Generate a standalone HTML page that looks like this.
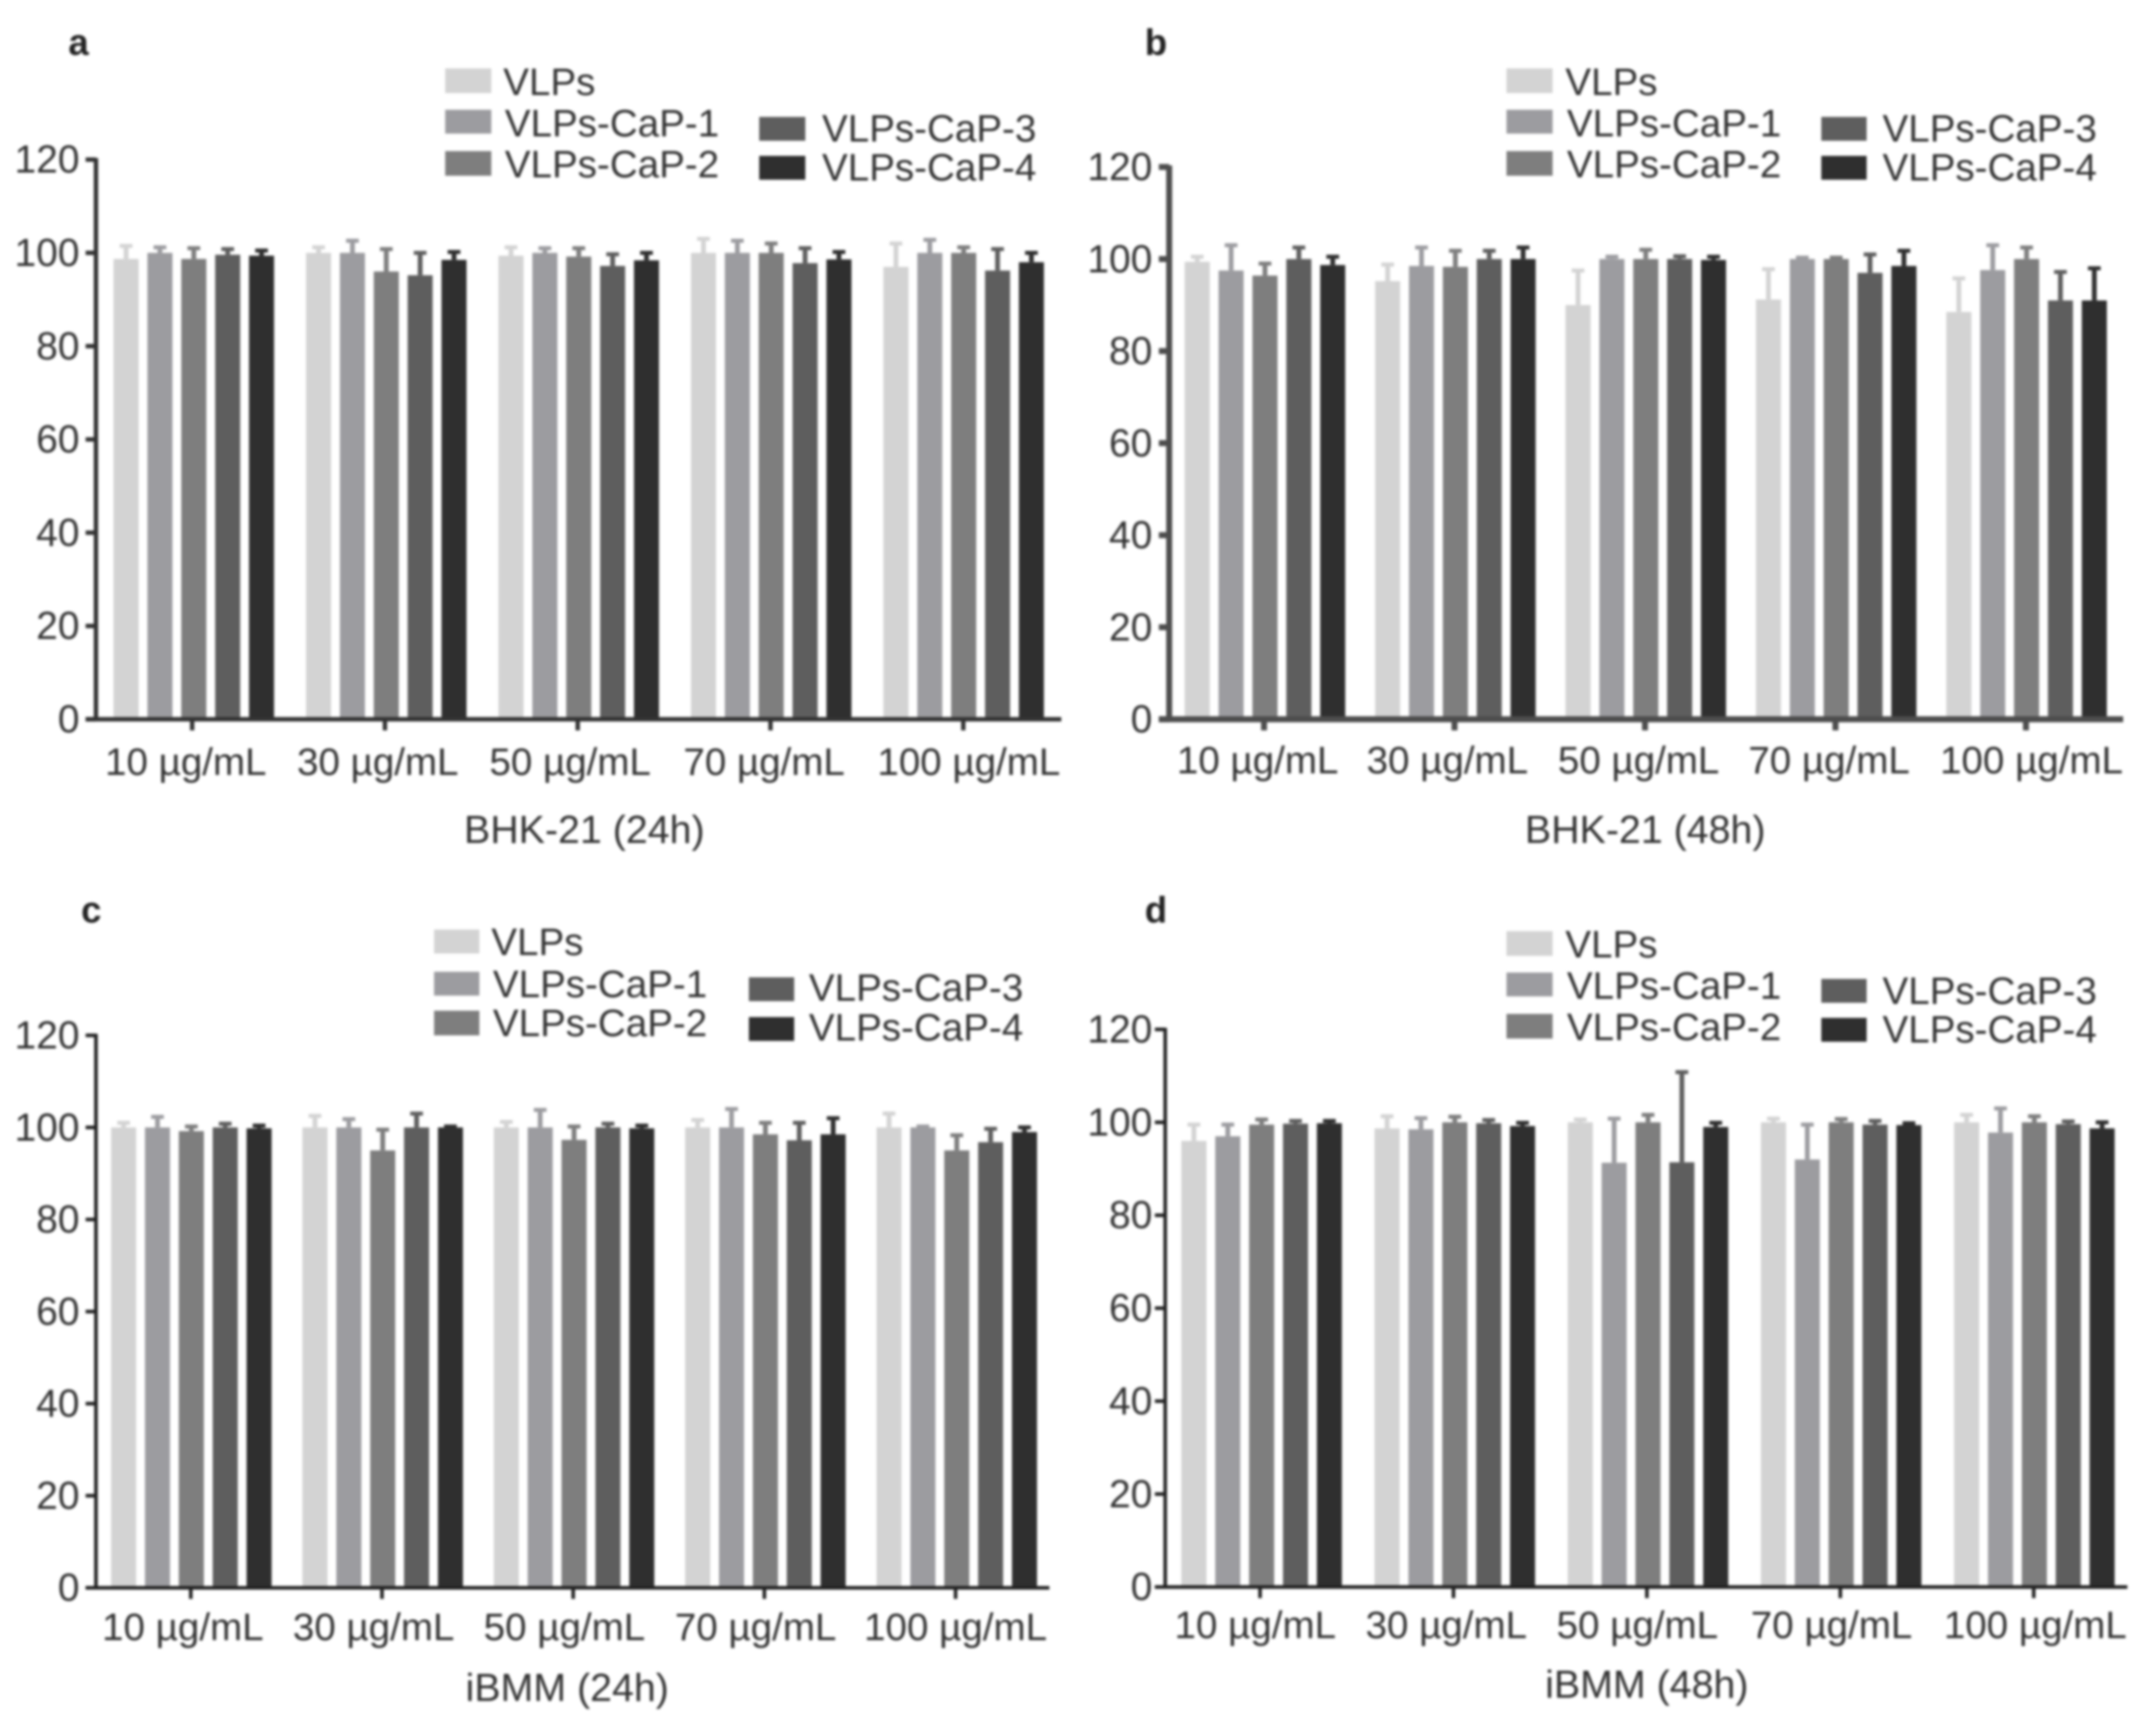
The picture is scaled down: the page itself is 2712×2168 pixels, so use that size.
<!DOCTYPE html>
<html lang="en">
<head>
<meta charset="utf-8">
<title>Cell viability of VLPs and VLPs-CaP</title>
<style>
html,body{margin:0;padding:0;background:#fff;width:2712px;height:2168px;overflow:hidden}
svg{display:block;filter:blur(1.5px)}
text{font-family:"Liberation Sans",sans-serif;fill:#333}
.leg{font-size:48.5px}
.tick{font-size:49px}
.cat{font-size:48.5px}
.ttl{font-size:49.5px;text-anchor:middle}
.let{font-size:46px;font-weight:bold;fill:#222}
</style>
</head>
<body>
<svg id="chart" xmlns="http://www.w3.org/2000/svg" width="2712" height="2168" viewBox="0 0 2712 2168">
<rect width="2712" height="2168" fill="#fff"/>

<g>
<text class="let" x="86" y="69">a</text>
<text class="ttl" x="735" y="1060">BHK-21 (24h)</text>
<g>
<rect x="560" y="86" width="58" height="31" fill="#d3d3d3"/>
<text class="leg" x="633" y="119.5">VLPs</text>
<rect x="560" y="138" width="58" height="30" fill="#9c9ca0"/>
<text class="leg" x="635" y="171.5">VLPs-CaP-1</text>
<rect x="560" y="190" width="58" height="31" fill="#7e7e7e"/>
<text class="leg" x="635" y="223">VLPs-CaP-2</text>
<rect x="955" y="147" width="58" height="30" fill="#5e5e5e"/>
<text class="leg" x="1034" y="178">VLPs-CaP-3</text>
<rect x="955" y="196" width="58" height="30" fill="#2f2f2f"/>
<text class="leg" x="1034" y="227">VLPs-CaP-4</text>
</g>
</g>

<g>
<text class="let" x="1440" y="69">b</text>
<text class="ttl" x="2069.5" y="1060">BHK-21 (48h)</text>
<g>
<rect x="1895" y="86" width="58" height="31" fill="#d3d3d3"/>
<text class="leg" x="1969" y="119.5">VLPs</text>
<rect x="1895" y="138" width="58" height="30" fill="#9c9ca0"/>
<text class="leg" x="1971" y="171.5">VLPs-CaP-1</text>
<rect x="1895" y="190" width="58" height="31" fill="#7e7e7e"/>
<text class="leg" x="1971" y="223">VLPs-CaP-2</text>
<rect x="2291" y="147" width="57" height="30" fill="#5e5e5e"/>
<text class="leg" x="2368" y="178">VLPs-CaP-3</text>
<rect x="2291" y="196" width="57" height="30" fill="#2f2f2f"/>
<text class="leg" x="2368" y="227">VLPs-CaP-4</text>
</g>
</g>

<g>
<text class="let" x="102" y="1160">c</text>
<text class="ttl" x="713.5" y="2139">iBMM (24h)</text>
<g>
<rect x="546" y="1169" width="57" height="30" fill="#d3d3d3"/>
<text class="leg" x="618" y="1201">VLPs</text>
<rect x="546" y="1222" width="57" height="30" fill="#9c9ca0"/>
<text class="leg" x="620" y="1254">VLPs-CaP-1</text>
<rect x="546" y="1271" width="57" height="31" fill="#7e7e7e"/>
<text class="leg" x="620" y="1303">VLPs-CaP-2</text>
<rect x="942" y="1229" width="57" height="30" fill="#5e5e5e"/>
<text class="leg" x="1017.5" y="1258.5">VLPs-CaP-3</text>
<rect x="942" y="1279" width="57" height="30" fill="#2f2f2f"/>
<text class="leg" x="1017.5" y="1308.5">VLPs-CaP-4</text>
</g>
</g>

<g>
<text class="let" x="1440" y="1160">d</text>
<text class="ttl" x="2071.5" y="2135">iBMM (48h)</text>
<g>
<rect x="1895" y="1171" width="58" height="31" fill="#d3d3d3"/>
<text class="leg" x="1969" y="1204">VLPs</text>
<rect x="1895" y="1223" width="58" height="30" fill="#9c9ca0"/>
<text class="leg" x="1971" y="1256">VLPs-CaP-1</text>
<rect x="1895" y="1275" width="58" height="31" fill="#7e7e7e"/>
<text class="leg" x="1971" y="1308">VLPs-CaP-2</text>
<rect x="2291" y="1231" width="57" height="30" fill="#5e5e5e"/>
<text class="leg" x="2368" y="1262.5">VLPs-CaP-3</text>
<rect x="2291" y="1280" width="57" height="30" fill="#2f2f2f"/>
<text class="leg" x="2368" y="1311">VLPs-CaP-4</text>
</g>
</g>
</svg>

<script>
// ---------- chart data ----------
const categories = ["10 µg/mL", "30 µg/mL", "50 µg/mL", "70 µg/mL", "100 µg/mL"];
const seriesNames = ["VLPs", "VLPs-CaP-1", "VLPs-CaP-2", "VLPs-CaP-3", "VLPs-CaP-4"];
const yTickValues = [0, 20, 40, 60, 80, 100, 120];

// One inner array per concentration, one value per series
const panelAValues = [
  [98.7, 100, 98.7, 99.6, 99.4],
  [100, 100, 96, 95.2, 98.5],
  [99.4, 100, 99.2, 97.2, 98.4],
  [100, 100, 100, 97.8, 98.6],
  [97, 100, 100, 96.2, 98]
];
const panelAErrorTops = [
  [101.5, 101.2, 101, 100.8, 100.5],
  [101.2, 102.6, 100.8, 100, 100.2],
  [101.2, 101, 101, 99.7, 100],
  [103, 102.6, 102, 101, 100.2],
  [102, 102.8, 101.2, 100.8, 100]
];
const panelBValues = [
  [99.4, 97.5, 96.4, 100, 98.7],
  [95.2, 98.5, 98.3, 100, 100],
  [90, 100, 100, 100, 99.8],
  [91.2, 100, 100, 97, 98.5],
  [88.5, 97.6, 100, 91, 91]
];
const panelBErrorTops = [
  [100.5, 103, 99, 102.5, 100.5],
  [98.8, 102.5, 101.8, 101.8, 102.5],
  [97.5, 100.5, 102, 100.6, 100.5],
  [97.8, 100.3, 100.3, 101, 101.8],
  [95.8, 103, 102.5, 97.2, 98]
];
const panelCValues = [
  [100, 100, 99.2, 100, 99.8],
  [100, 100, 95, 100, 100],
  [100, 100, 97.3, 100, 99.8],
  [100, 100, 98.5, 97.2, 98.5],
  [100, 100, 95, 96.8, 99]
];
const panelCErrorTops = [
  [101, 102.3, 100.2, 100.8, 100.4],
  [102.5, 101.8, 99.5, 103, 100.2],
  [101.2, 103.8, 100.2, 100.8, 100.4],
  [101.6, 104, 101, 101, 102],
  [103, 100.2, 98.3, 99.7, 100]
];
const panelDValues = [
  [96, 97, 99.5, 99.7, 99.8],
  [98.7, 98.5, 100, 99.8, 99.2],
  [100, 91.3, 100, 91.4, 99],
  [100, 92, 100, 99.5, 99.4],
  [100, 97.8, 100, 99.6, 98.7]
];
const panelDErrorTops = [
  [99.5, 99.5, 100.6, 100.3, 100.3],
  [101.3, 100.9, 101.2, 100.5, 99.9],
  [100.6, 100.8, 101.6, 110.8, 99.9],
  [100.8, 99.5, 100.7, 100.3, 99.8],
  [101.6, 103, 101.3, 100.2, 100]
];

// ---------- layout and drawing ----------
const seriesColors = ["#d3d3d3", "#9c9ca0", "#7e7e7e", "#5e5e5e", "#2f2f2f"];
const yMax = 120;
const barWidth = 31.5;
const barPitch = 42.6;

const panels = [
  {id: "a", values: panelAValues, errs: panelAErrorTops, axisX: 120.7, axisEnd: 1335, y0: 904.5, yTop: 200.7, firstTick: 241.7, tickStep: 242.5, firstBar: 243.8, barStep: 242.1, labelRight: 100, catBaseline: 974.5, axisColor: "#333", axisWidth: 5.5, labelShift: [-8, -9, -9.5, -8, 7]},
  {id: "b", values: panelBValues, errs: panelBErrorTops, axisX: 1470.7, axisEnd: 2670.7, y0: 904.5, yTop: 210, firstTick: 1590, tickStep: 239.6, firstBar: 1591.2, barStep: 239.5, labelRight: 1449.5, catBaseline: 972.5, axisColor: "#4d4d4d", axisWidth: 7.5, labelShift: [-8, -9, -8, -8, 7]},
  {id: "c", values: panelCValues, errs: panelCErrorTops, axisX: 120.7, axisEnd: 1320, y0: 1996.7, yTop: 1302, firstTick: 240, tickStep: 240.5, firstBar: 240.7, barStep: 240.7, labelRight: 100, catBaseline: 2062.5, axisColor: "#222", axisWidth: 4.5, labelShift: [-10, -10.5, -11, -11, 0]},
  {id: "d", values: panelDValues, errs: panelDErrorTops, axisX: 1465.7, axisEnd: 2676, y0: 1995.7, yTop: 1294.5, firstTick: 1585, tickStep: 243.3, firstBar: 1587, barStep: 243, labelRight: 1449.5, catBaseline: 2060, axisColor: "#222", axisWidth: 4.5, labelShift: [-6, -9, -12, -11, 2]}
];

const svg = document.getElementById("chart");
const NS = "http://www.w3.org/2000/svg";

function make(tag, parent, props) {
  const el = document.createElementNS(NS, tag);
  for (const k in props) el.setAttribute(k, props[k]);
  parent.appendChild(el);
  return el;
}

function yScale(p, v) {
  return p.y0 - (v / yMax) * (p.y0 - p.yTop);
}

function tickX(p, c) {
  return p.firstTick + c * p.tickStep;
}

function barX(p, c, s) {
  return p.firstBar + c * p.barStep + (s - 2) * barPitch;
}

panels.forEach(function (p) {
  const g = make("g", svg, {});
  
  

  // error bars and bars
  p.values.forEach(function (row, c) {
    row.forEach(function (v, s) {
      const cx = barX(p, c, s);
      const top = yScale(p, v);
      const errTop = yScale(p, p.errs[c][s]);

      const stem = make("line", g, {x1: cx, x2: cx, y1: top, y2: errTop, stroke: seriesColors[s], "stroke-width": 6});
      
      

      const cap = make("line", g, {x1: cx - 8, x2: cx + 8, y1: errTop, y2: errTop, stroke: seriesColors[s], "stroke-width": 5});
      
      

      const bar = make("rect", g, {x: cx - barWidth / 2, y: top, width: barWidth, height: p.y0 - top, fill: seriesColors[s]});
      
      
    });
  });

  // y axis
  const yLine = make("line", g, {x1: p.axisX, x2: p.axisX, y1: p.yTop - 2, y2: p.y0 + 2, stroke: p.axisColor, "stroke-width": p.axisWidth});
  
  

  yTickValues.forEach(function (t) {
    const y = yScale(p, t);
    const tick = make("line", g, {x1: p.axisX - 13, x2: p.axisX, y1: y, y2: y, stroke: p.axisColor, "stroke-width": p.axisWidth});
    
    

    const lab = make("text", g, {x: p.labelRight, y: y + 16.5, "text-anchor": "end", class: "tick"});
    
    
    lab.textContent = t;
  });

  // x axis
  const xLine = make("line", g, {x1: p.axisX - 13, x2: p.axisEnd, y1: p.y0, y2: p.y0, stroke: p.axisColor, "stroke-width": p.axisWidth});
  
  

  categories.forEach(function (name, c) {
    const x = tickX(p, c);
    const tick = make("line", g, {x1: x, x2: x, y1: p.y0, y2: p.y0 + 14, stroke: p.axisColor, "stroke-width": p.axisWidth});
    
    

    const lab = make("text", g, {x: x + p.labelShift[c], y: p.catBaseline, "text-anchor": "middle", class: "cat"});
    
    
    lab.textContent = name;
  });
});
</script>
</body>
</html>
